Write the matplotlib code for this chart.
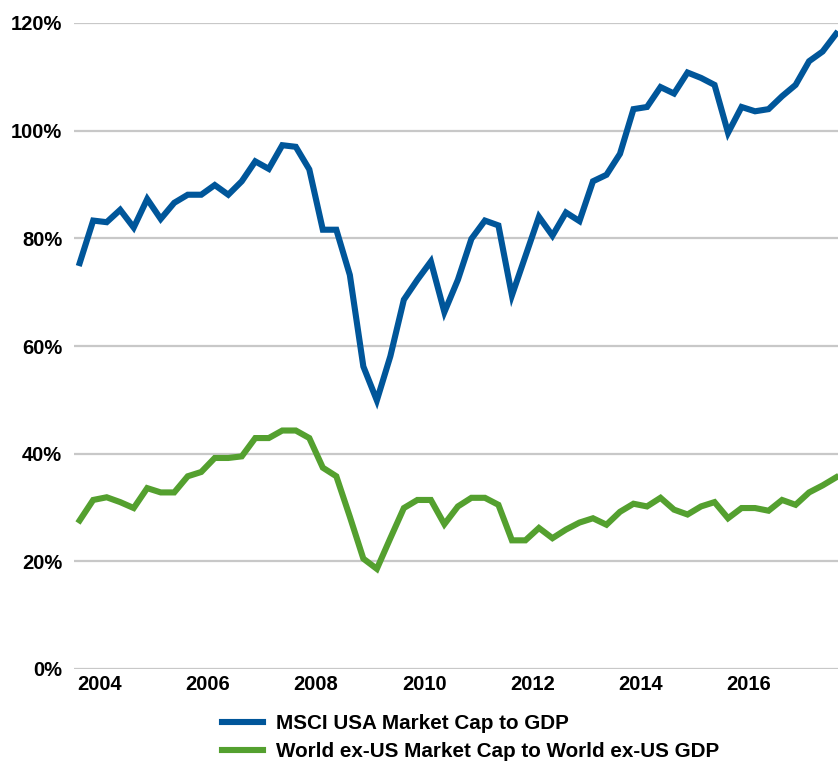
import numpy as np
import matplotlib
matplotlib.use("Agg")
import matplotlib.pyplot as plt

# quarterly data, 2003 Q3 .. 2017 Q3
start_year = 2003
start_quarter = 3

usa = [75.4, 83.3, 83.0, 85.3, 82.0, 87.3, 83.6, 86.6, 88.1, 88.1,
       89.9, 88.1, 90.6, 94.3, 92.9, 97.3, 97.0, 92.8, 81.6, 81.6,
       73.2, 56.2, 49.9, 58.1, 68.6, 72.3, 75.7, 66.3, 72.3, 79.9,
       83.3, 82.4, 69.4, 76.7, 84.0, 80.5, 84.8, 83.2, 90.6, 91.8,
       95.7, 104.0, 104.4, 108.1, 106.9, 110.8, 109.8, 108.5, 99.6, 104.4,
       103.6, 104.0, 106.4, 108.5, 112.9, 114.7, 118.0]

world_ex_us = [27.6, 31.4, 31.9, 31.0, 29.9, 33.6, 32.8, 32.8, 35.8, 36.6,
               39.2, 39.2, 39.5, 42.9, 42.9, 44.3, 44.3, 42.9, 37.4, 35.8,
               28.3, 20.5, 18.6, 24.3, 29.9, 31.4, 31.4, 26.9, 30.2, 31.8,
               31.8, 30.5, 23.9, 23.9, 26.2, 24.3, 25.9, 27.2, 28.0, 26.8,
               29.2, 30.7, 30.2, 31.8, 29.6, 28.7, 30.2, 31.0, 28.0, 29.9,
               29.9, 29.4, 31.4, 30.5, 32.8, 34.1, 35.6]

labels = ["MSCI USA Market Cap to GDP",
          "World ex-US Market Cap to World ex-US GDP"]
year_ticks = [2004, 2006, 2008, 2010, 2012, 2014, 2016]
pct_ticks = [0, 20, 40, 60, 80, 100, 120]

# x position = middle of each quarter
n = len(usa)
x = start_year + (start_quarter - 0.5) / 4 + 0.25 * np.arange(n)

blue = "#00569a"
green = "#54a02f"
font = ["Liberation Sans Narrow", "Liberation Sans", "DejaVu Sans"]

W, H = 838, 765
fig = plt.figure(figsize=(W / 100, H / 100), dpi=100)
ax = fig.add_axes([74 / W, (H - 669) / H, (838 - 74) / W, (669 - 23) / H])

ax.plot(x, usa, color=blue, lw=4.4, solid_joinstyle="miter", label=labels[0], zorder=3)
ax.plot(x, world_ex_us, color=green, lw=4.4, solid_joinstyle="miter", label=labels[1], zorder=3)

ax.set_ylim(0, 120)
ax.set_xlim(2003.52, 2017.66)
ax.set_yticks(pct_ticks)
ax.set_yticklabels([f"{v}%" for v in pct_ticks])
ax.set_xticks(year_ticks)
ax.set_xticklabels([str(y) for y in year_ticks])
ax.grid(axis="y", color="#c8c8c8", lw=1.6, zorder=0)
ax.set_axisbelow(True)
for s in ax.spines.values():
    s.set_visible(False)
ax.tick_params(length=0)
ax.tick_params(axis="y", pad=8.5)
ax.tick_params(axis="x", pad=4.5)
for t in ax.get_xticklabels() + ax.get_yticklabels():
    t.set_fontfamily(font)
    t.set_fontweight("bold")
    t.set_fontsize(14.5)

fs = 14.9
leg = fig.legend(loc="upper left", bbox_to_anchor=(214 / W, (H - 706) / H),
                 frameon=False, handlelength=1.95, handletextpad=0.63,
                 labelspacing=0.42, borderaxespad=0,
                 prop={"family": font, "weight": "bold", "size": fs})
for line in leg.get_lines():
    line.set_linewidth(4.4)

fig.savefig("out.png", dpi=100)
